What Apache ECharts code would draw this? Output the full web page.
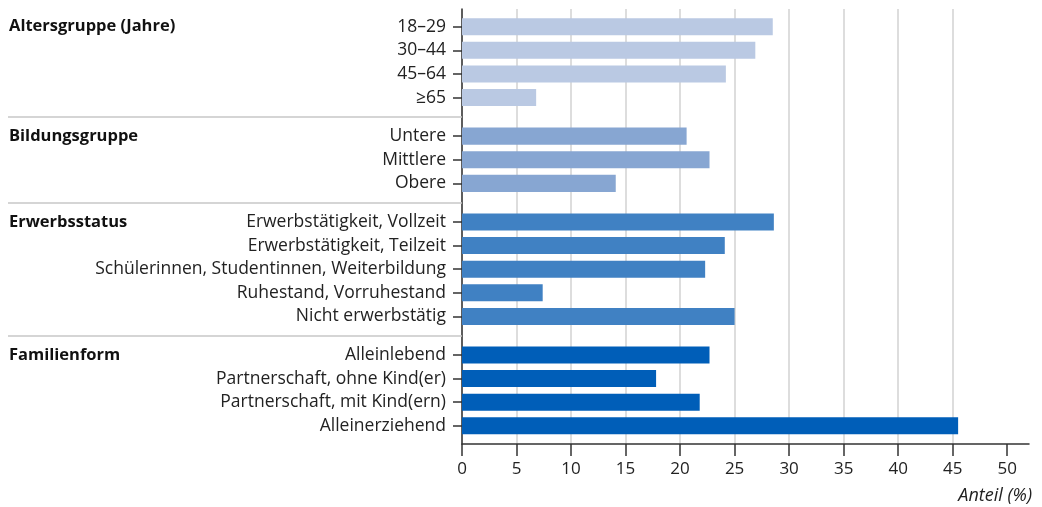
<!DOCTYPE html>
<html>
<head>
<meta charset="utf-8">
<script src="https://cdn.jsdelivr.net/npm/echarts@6/dist/echarts.min.js"></script>
<style>
  html, body { margin: 0; padding: 0; background: #fff; }
  #chart { width: 1042px; height: 507px; }
</style>
</head>
<body>
<div id="chart"></div>
<script>
// Gruppen und Kategorien
const groupNames = ['Altersgruppe (Jahre)', 'Bildungsgruppe', 'Erwerbsstatus', 'Familienform'];

const ageLabels = ['18–29', '30–44', '45–64', '≥65'];
const ageValues = [28.5, 26.9, 24.2, 6.8];

const eduLabels = ['Untere', 'Mittlere', 'Obere'];
const eduValues = [20.6, 22.7, 14.1];

const jobLabels = ['Erwerbstätigkeit, Vollzeit', 'Erwerbstätigkeit, Teilzeit',
    'Schülerinnen, Studentinnen, Weiterbildung', 'Ruhestand, Vorruhestand', 'Nicht erwerbstätig'];
const jobValues = [28.6, 24.1, 22.3, 7.4, 25.0];

const famLabels = ['Alleinlebend', 'Partnerschaft, ohne Kind(er)', 'Partnerschaft, mit Kind(ern)', 'Alleinerziehend'];
const famValues = [22.7, 17.8, 21.8, 45.5];

const xTicks = [0, 5, 10, 15, 20, 25, 30, 35, 40, 45, 50];
const axisTitle = 'Anteil (%)';

// Layout (in Zeilen-Einheiten)
const GROUP_GAP = 0.63;   // zusaetzlicher Abstand zwischen Gruppen
const BAR = 0.72;         // Balkenhoehe relativ zum Zeilenabstand
const colors = ['#BAC9E3', '#87A6D2', '#4081C3', '#005EB8'];
const FONT = 'Open Sans';

const groupLabels = [ageLabels, eduLabels, jobLabels, famLabels];
const groupValues = [ageValues, eduValues, jobValues, famValues];

// Positionen der Zeilen auf der y-Achse berechnen
const rowPos = [];
let idx = 0;
groupLabels.forEach((labels, g) => {
    rowPos.push(labels.map((_, i) => idx + i + g * GROUP_GAP));
    idx += labels.length;
});
const allPos = rowPos.flat();
const allLabels = groupLabels.flat();
const firstPos = rowPos.map(p => p[0]);
const sepPos = rowPos.slice(0, -1).map((p, g) => (p[p.length - 1] + rowPos[g + 1][0]) / 2);
const yMin = -0.75;
const yMax = allPos[allPos.length - 1] + 0.77;

function nearest(list, v) {
    let best = 0;
    list.forEach((p, i) => { if (Math.abs(p - v) < Math.abs(list[best] - v)) best = i; });
    return best;
}

const chart = echarts.init(document.getElementById('chart'));

const series = groupValues.map((vals, g) => ({
    type: 'custom',
    name: groupNames[g],
    itemStyle: { color: colors[g] },
    data: vals.map((v, i) => [v, rowPos[g][i]]),
    encode: { x: 0, y: 1 },
    renderItem: function (params, api) {
        const start = api.coord([0, api.value(1)]);
        const end = api.coord([api.value(0), api.value(1)]);
        const h = Math.abs(api.size([0, BAR])[1]);
        return {
            type: 'rect',
            shape: { x: start[0], y: start[1] - h / 2, width: end[0] - start[0], height: h },
            style: { fill: colors[g] }
        };
    },
    z: 5
}));

const option = {
    animation: false,
    textStyle: { fontFamily: FONT },
    title: {
        text: axisTitle,
        right: 10,
        top: 487,
        padding: 0,
        textStyle: { fontFamily: FONT, fontSize: 18, fontStyle: 'italic', fontWeight: 'normal', color: '#222' }
    },
    grid: {
        left: 462,
        right: 13,
        top: 9,
        bottom: 63,
        containLabel: false,
        outerBoundsMode: 'none'
    },
    xAxis: {
        type: 'value',
        min: 0,
        max: 52,
        interval: 5,
        axisLine: { onZero: false, lineStyle: { color: '#333', width: 1.5 } },
        axisTick: { show: true, customValues: xTicks, length: 12, lineStyle: { color: '#333', width: 1.5 } },
        axisLabel: { customValues: xTicks, fontSize: 17, color: '#222', margin: 17, fontFamily: FONT },
        splitLine: { show: true, showMaxLine: false, lineStyle: { color: '#d2d2d2', width: 1.5 } }
    },
    yAxis: [{
        type: 'value',
        inverse: true,
        min: yMin,
        max: yMax,
        position: 'left',
        axisLine: { show: true, onZero: false, lineStyle: { color: '#333', width: 1.5 } },
        axisTick: { show: true, customValues: allPos, length: 9, lineStyle: { color: '#333', width: 1.5 } },
        axisLabel: {
            customValues: allPos,
            formatter: v => allLabels[nearest(allPos, v)],
            fontSize: 17.5,
            color: '#222',
            margin: 16,
            fontFamily: FONT
        },
        splitLine: { show: false }
    }, {
        type: 'value',
        inverse: true,
        min: yMin,
        max: yMax,
        position: 'left',
        axisLine: { show: false, onZero: false },
        axisTick: { show: true, customValues: sepPos, length: 454, lineStyle: { color: '#c8c8c8', width: 1.5 } },
        axisLabel: {
            customValues: firstPos,
            formatter: v => groupNames[nearest(firstPos, v)],
            align: 'left',
            fontSize: 16.5,
            fontWeight: 'bold',
            color: '#111',
            margin: 453,
            fontFamily: FONT
        },
        splitLine: { show: false }
    }],
    series: series
};

chart.setOption(option);
</script>
</body>
</html>
